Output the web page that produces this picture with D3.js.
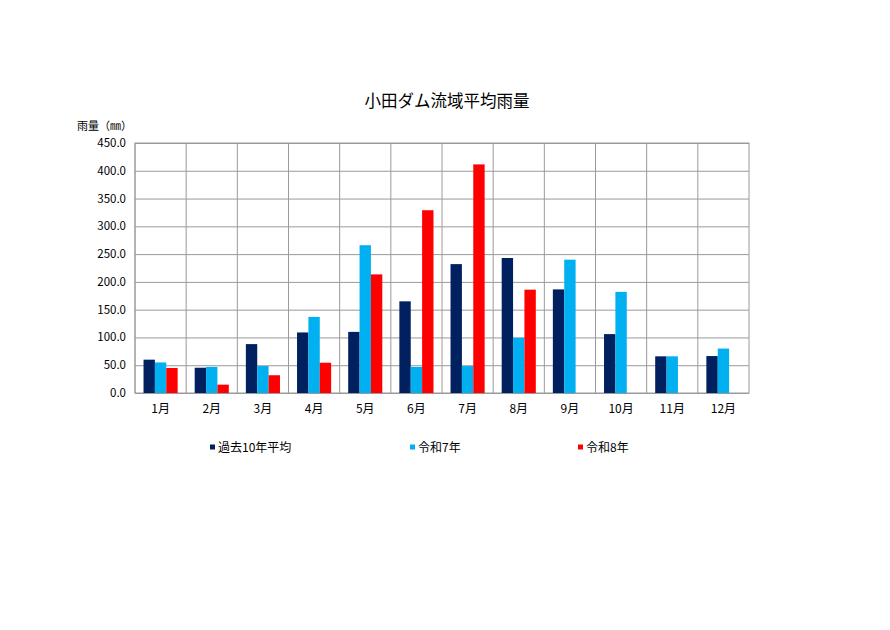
<!doctype html>
<meta charset="utf-8">
<style>
body {
  margin: 0;
  background: #fff;
  font-family: "Noto Sans CJK JP", sans-serif;
}
</style>
<script src="https://cdn.jsdelivr.net/npm/d3@7"></script>
<body>

<script>

var months = ["1月","2月","3月","4月","5月","6月","7月","8月","9月","10月","11月","12月"];
var seriesNames = ["過去10年平均", "令和7年", "令和8年"];
var avg10 = [60, 45.5, 88, 109, 110, 165, 232, 243, 186.5, 106, 66, 66.5];
var r7 = [55, 47, 48.5, 137, 266, 47, 48.5, 99.5, 240, 182, 66, 80];
var r8 = [45, 15, 32, 54.5, 213.5, 329, 411.5, 186, null, null, null, null];
var yTicks = [0, 50, 100, 150, 200, 250, 300, 350, 400, 450];
var colors = ["#002060", "#00b0f0", "#ff0000"];

var w = 890, h = 630;
var pLeft = 135, pRight = 749, pTop = 143, pBottom = 393;

var svg = d3.select("body")
  .append("svg")
    .attr("width", w)
    .attr("height", h)

var x = d3.scaleBand()
    .domain(months)
    .range([pLeft, pRight]);

var x1 = d3.scaleBand()
    .domain([0, 1, 2])
    .range([0, x.bandwidth()])
    .paddingInner(0)
    .paddingOuter(0.75);

var y = d3.scaleLinear()
    .domain([0, 450])
    .range([pBottom, pTop]);

// grid
svg.append("g")
    .attr("transform", "translate(" + pLeft + ",0)")
    .call(d3.axisLeft(y).tickValues(yTicks).tickSize(-(pRight - pLeft)).tickFormat(""))
    .call(g => g.select(".domain").remove())
    .selectAll("line")
    .style("stroke", "#9a9a9a");

svg.append("g")
    .attr("transform", "translate(0," + pBottom + ")")
    .call(d3.axisBottom(x).tickSize(-(pBottom - pTop)).tickFormat(""))
    .call(g => g.select(".domain").remove())
    .selectAll(".tick line")
    .attr("transform", "translate(" + (-x.bandwidth() / 2) + ",0)")
    .style("stroke", "#9a9a9a");

svg.append("rect")
    .attr("x", pLeft)
    .attr("y", pTop)
    .attr("width", pRight - pLeft)
    .attr("height", pBottom - pTop)
    .style("fill", "none")
    .style("stroke", "#9a9a9a");

// bars
var data = [avg10, r7, r8];
data.forEach(function(vals, s) {
  svg.append("g")
    .selectAll("rect")
    .data(months.map((m, i) => ({m: m, v: vals[i]})).filter(d => d.v != null))
    .enter().append("rect")
      .attr("x", d => x(d.m) + x1(s))
      .attr("y", d => y(d.v))
      .attr("width", x1.bandwidth())
      .attr("height", d => pBottom - y(d.v))
      .style("fill", colors[s]);
});

// y labels
svg.append("g")
  .selectAll("text")
  .data(yTicks)
  .enter().append("text")
    .attr("x", 126)
    .attr("y", d => y(d) + 4)
    .attr("text-anchor", "end")
    .style("font-size", "11.5px")
    .text(d => d.toFixed(1));

// x labels
svg.append("g")
  .selectAll("text")
  .data(months)
  .enter().append("text")
    .attr("x", d => x(d) + x.bandwidth() / 2)
    .attr("y", 413)
    .attr("text-anchor", "middle")
    .style("font-size", "12px")
    .text(d => d);

svg.append("text")
    .attr("x", 447)
    .attr("y", 107)
    .attr("text-anchor", "middle")
    .style("font-size", "16.5px")
    .text("小田ダム流域平均雨量");

svg.append("text")
    .attr("x", 77)
    .attr("y", 130)
    .style("font-size", "11px")
    .text("雨量（㎜）");

// legend
var legendX = [210, 410, 578];
var lg = svg.append("g")
  .selectAll("g")
  .data(seriesNames)
  .enter().append("g")
    .attr("transform", (d, i) => "translate(" + legendX[i] + ",447)");

lg.append("rect")
    .attr("x", 0)
    .attr("y", -2.5)
    .attr("width", 5)
    .attr("height", 5)
    .style("fill", (d, i) => colors[i]);

lg.append("text")
    .attr("x", 8)
    .attr("y", 4.5)
    .style("font-size", "12px")
    .text(d => d);

</script>
